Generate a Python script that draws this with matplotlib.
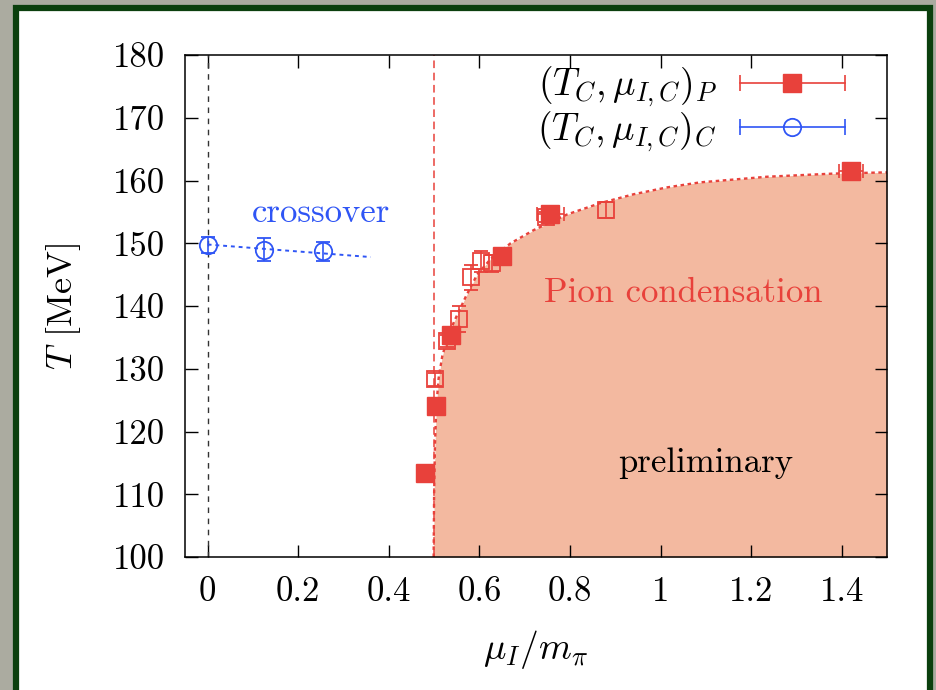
import matplotlib as mpl
import matplotlib.pyplot as plt
from matplotlib.lines import Line2D
from matplotlib.legend_handler import HandlerLine2D
from matplotlib.patches import Rectangle
from matplotlib.ticker import FuncFormatter

# --- data ------------------------------------------------------------------
# filled squares: (T_C, mu_I,C)_P
mu_P = [0.481, 0.505, 0.537, 0.650, 0.757, 1.421]
mu_P_err = [0.003, 0.003, 0.004, 0.004, 0.030, 0.027]
T_P = [113.4, 124.0, 135.3, 147.9, 154.6, 161.5]
T_P_err = [0.5, 0.5, 0.5, 0.5, 0.6, 0.8]

# open squares (no legend entry)
mu_O = [0.502, 0.529, 0.556, 0.581, 0.603, 0.628, 0.748, 0.880]
T_O = [128.3, 134.4, 137.9, 144.6, 147.1, 146.8, 154.2, 155.3]
T_O_err = [1.0, 1.0, 2.1, 2.0, 1.7, 1.4, 0.8, 1.2]

# open circles: (T_C, mu_I,C)_C crossover points
mu_C = [0.0, 0.125, 0.254]
T_C = [149.7, 149.0, 148.7]
T_C_err = [1.3, 1.8, 1.5]

# dotted fit lines
mu_cross_fit = [0.0, 0.36]
T_cross_fit = [149.8, 147.8]
mu_fit = [0.499, 0.500, 0.502, 0.505, 0.510, 0.518, 0.530, 0.544, 0.570, 0.595,
          0.625, 0.669, 0.720, 0.794, 0.867, 0.940, 1.014, 1.087, 1.235, 1.381, 1.500]
T_fit = [100.0, 110.0, 118.0, 124.0, 128.5, 132.0, 135.0, 137.5, 141.5, 145.0,
         147.5, 150.0, 152.1, 154.6, 156.4, 157.8, 158.9, 159.7, 160.6, 161.1, 161.3]

x_ticks = [0, 0.2, 0.4, 0.6, 0.8, 1.0, 1.2, 1.4]
y_ticks = [100, 110, 120, 130, 140, 150, 160, 170, 180]

C_RED = "#E8413B"
C_FILL = "#F3B9A0"
C_BLUE = "#2F55F5"
C_FRAME = "#0B3F0D"
C_BG = "#ABABA0"

mpl.rcParams.update({
    "font.family": "cmr10",
    "mathtext.fontset": "cm",
    "axes.formatter.use_mathtext": True,
    "axes.unicode_minus": False,
})

FS = 25

fig = plt.figure(figsize=(9.36, 6.9), dpi=100)
fig.patch.set_facecolor(C_BG)
frame = Rectangle((15.5 / 936, -0.05), (930 - 15.5) / 936, 1.05 - 7.5 / 690,
                  transform=fig.transFigure, facecolor="white",
                  edgecolor=C_FRAME, linewidth=4.5, zorder=-10)
fig.patches.append(frame)

ax = fig.add_axes([185 / 936, 1 - 557 / 690, 702 / 936, 502 / 690])
ax.set_zorder(1)

ax.fill_between(mu_fit, T_fit, 100, color=C_FILL, linewidth=0, zorder=1)
ax.plot(mu_fit, T_fit, color=C_RED, linestyle=(0, (1.5, 1.5)), linewidth=1.7, zorder=2)
ax.axvline(0, color="#333333", linestyle=(0, (4, 4)), linewidth=1.0, zorder=2)
ax.axvline(0.5, color=C_RED, linestyle=(0, (5, 3)), linewidth=1.1, zorder=2)
ax.plot(mu_cross_fit, T_cross_fit, color=C_BLUE, linestyle=(0, (2, 2)), linewidth=1.4, zorder=2)

ax.errorbar(mu_O, T_O, yerr=T_O_err, fmt="s", color=C_RED, mfc="none", mec=C_RED,
            markersize=12, mew=1.3, elinewidth=1.2, capsize=5, capthick=1.2, zorder=3)
ax.errorbar(mu_P, T_P, xerr=mu_P_err, yerr=T_P_err, fmt="s", color=C_RED, mfc=C_RED,
            mec=C_RED, markersize=12.5, elinewidth=1.2, capsize=5, capthick=1.2, zorder=4)
ax.errorbar(mu_C, T_C, yerr=T_C_err, fmt="o", color=C_BLUE, mfc="none", mec=C_BLUE,
            markersize=12.5, mew=1.3, elinewidth=1.2, capsize=5, capthick=1.2, zorder=4)

ax.text(0.25, 154.8, "crossover", color=C_BLUE, fontsize=FS, ha="center", va="center")
ax.text(1.05, 142.1, "Pion condensation", color=C_RED, fontsize=FS, ha="center", va="center")
ax.text(1.099, 115.0, "preliminary", color="black", fontsize=FS, ha="center", va="center")

# gnuplot-style legend: horizontal error bar with marker in the middle
bar_P = Line2D([], [], color=C_RED, linewidth=1.2, marker="|", markersize=12, mew=1.2)
mk_P = Line2D([], [], linestyle="none", marker="s", color=C_RED, markersize=12.5)
bar_C = Line2D([], [], color=C_BLUE, linewidth=1.2, marker="|", markersize=12, mew=1.2)
mk_C = Line2D([], [], linestyle="none", marker="o", color=C_BLUE, mfc="none",
              markersize=12.5, mew=1.3)
hmap = {bar_P: HandlerLine2D(numpoints=2, marker_pad=0),
        bar_C: HandlerLine2D(numpoints=2, marker_pad=0),
        mk_P: HandlerLine2D(numpoints=1),
        mk_C: HandlerLine2D(numpoints=1)}
ax.legend([(bar_P, mk_P), (bar_C, mk_C)],
          [r"$(T_C,\mu_{I,C})_P$", r"$(T_C,\mu_{I,C})_C$"],
          handler_map=hmap, loc="upper right", bbox_to_anchor=(0.94, 0.98),
          frameon=False, markerfirst=False, fontsize=27, handlelength=2.8,
          handletextpad=0.6, labelspacing=0.0, borderpad=0, borderaxespad=0)

ax.set_xlim(-0.05, 1.5)
ax.set_ylim(100, 180)
ax.set_xticks(x_ticks)
ax.set_yticks(y_ticks)
ax.xaxis.set_major_formatter(FuncFormatter(lambda v, p: f"{v:g}"))
ax.yaxis.set_major_formatter(FuncFormatter(lambda v, p: f"{v:g}"))
ax.tick_params(direction="in", length=9, width=1.0, top=True, right=True,
               labelsize=FS, pad=14)
for s in ax.spines.values():
    s.set_linewidth(1.1)

ax.set_xlabel(r"$\mu_I/m_\pi$", fontsize=27, labelpad=14)
ax.set_ylabel(r"$T$ [MeV]", fontsize=26, labelpad=22)

fig.savefig("out.png", dpi=100, facecolor=fig.get_facecolor())
